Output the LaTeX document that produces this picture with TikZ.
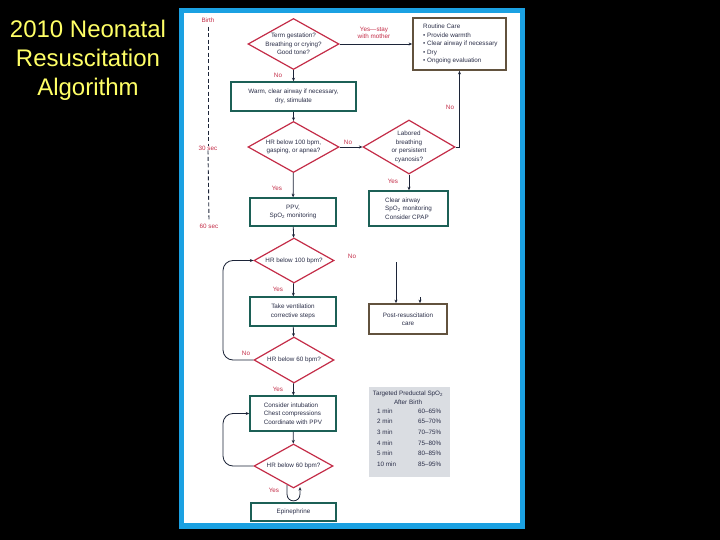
\documentclass[tikz,border=0pt]{standalone}
\usepackage{fontspec}
\setmainfont{Liberation Sans}
\usetikzlibrary{shapes.geometric,arrows.meta,calc}
\definecolor{redc}{RGB}{196,45,72}
\definecolor{tealc}{RGB}{28,96,86}
\definecolor{brownc}{RGB}{98,82,62}
\definecolor{arrc}{RGB}{28,36,56}
\definecolor{textc}{RGB}{42,46,72}
\definecolor{frameblue}{RGB}{27,161,226}
\definecolor{titley}{RGB}{255,255,102}
\definecolor{greyc}{RGB}{218,221,226}
\begin{document}
\begin{tikzpicture}[x=1pt,y=-1pt,
  dia/.style={diamond, draw=redc, line width=1.2pt, inner sep=0pt, fill=white},
  tbox/.style={rectangle, draw=tealc, line width=1.4pt, inner sep=0pt},
  bbox/.style={rectangle, draw=brownc, line width=1.8pt, inner sep=0pt},
  txt/.style={font=\fontsize{6.3}{8.5}\selectfont, text=textc, align=center, inner sep=0pt},
  lab/.style={font=\fontsize{6.3}{7.5}\selectfont, text=redc, inner sep=0pt, align=center},
  arr/.style={draw=arrc, line width=0.8pt, -{Stealth[length=3.5pt,width=3pt]}},
  timeline/.style={draw=arrc, line width=0.9pt, dash pattern=on 4pt off 2.5pt}
]
\fill[black] (0,0) rectangle (720,540);
\useasboundingbox (0,0) rectangle (720,540);
% title
\node[font=\fontsize{24}{29}\selectfont, text=titley, align=center, inner sep=0pt] (title) at (88,60)
  {2010 Neonatal\\Resuscitation\\Algorithm};
% panel
\fill[frameblue] (179,8) rectangle (525,529);
\fill[white] (184,13) rectangle (520,523);

% time line
\node[lab] (birth) at (208,20) {Birth};
\node[lab] (t30) at (208,148) {30 sec};
\node[lab] (t60) at (209,226) {60 sec};
\draw[timeline] (birth.south) ++(0,4) -- (t30.north);
\draw[timeline] (t30.south) -- ($(t60.north)+(0,-3)$);

% shapes
\node[dia, minimum width=91, minimum height=51] (d1) at (293.5,44) {};
\node[txt] at (d1) {Term gestation?\\Breathing or crying?\\Good tone?};
\node[bbox, minimum width=93, minimum height=52] (routine) at (459.5,44) {};
\node[txt, align=left, anchor=west] at (423,44) {Routine Care\\• Provide warmth\\• Clear airway if necessary\\• Dry\\• Ongoing evaluation};
\node[tbox, minimum width=125, minimum height=29] (warm) at (293.5,96.5) {};
\node[txt] at (warm) {Warm, clear airway if necessary,\\dry, stimulate};
\node[dia, minimum width=91, minimum height=51] (d3) at (293.5,147) {};
\node[txt] at (d3) {HR below 100 bpm,\\gasping, or apnea?};
\node[dia, minimum width=92, minimum height=54] (lab) at (409,147) {};
\node[txt] at (lab) {Labored\\breathing\\or persistent\\cyanosis?};
\node[tbox, minimum width=79, minimum height=35] (cpap) at (408.5,208.5) {};
\node[txt, align=left, anchor=west] at (385,208.5) {Clear airway\\SpO\textsubscript{2} monitoring\\Consider CPAP};
\node[tbox, minimum width=86, minimum height=28] (ppv) at (293,212) {};
\node[txt] at (ppv) {PPV,\\SpO\textsubscript{2} monitoring};
\node[dia, minimum width=80, minimum height=45] (d4) at (294,260.5) {};
\node[txt] at (d4) {HR below 100 bpm?};
\node[bbox, minimum width=78, minimum height=30] (post) at (408,319) {};
\node[txt] at (post) {Post-resuscitation\\care};
\node[tbox, minimum width=86, minimum height=29] (vent) at (293,311.5) {};
\node[txt] at (vent) {Take ventilation\\corrective steps};
\node[dia, minimum width=80, minimum height=46] (d5) at (294,360) {};
\node[txt] at (d5) {HR below 60 bpm?};
\node[tbox, minimum width=86, minimum height=35] (comp) at (293,413.5) {};
\node[txt, align=left] at (comp) {Consider intubation\\Chest compressions\\Coordinate with PPV};
\node[dia, minimum width=79, minimum height=44] (d6) at (293.5,466) {};
\node[txt] at (d6) {HR below 60 bpm?};
\node[tbox, minimum width=85, minimum height=18] (epi) at (293.5,512) {};
\node[txt] at (epi) {Epinephrine};

% SpO2 table
\node[fill=greyc, minimum width=81, minimum height=90, inner sep=0pt] (tab) at (409.5,432) {};
\node[txt, font=\fontsize{6.3}{8.8}\selectfont] (tabt) at (408,397.5) {Targeted Preductal SpO\textsubscript{2}\\After Birth};
\foreach \t/\v/\yy in {1 min/60--65\%/411,2 min/65--70\%/421.5,3 min/70--75\%/432,4 min/75--80\%/443,5 min/80--85\%/453.5,10 min/85--95\%/464}{
  \node[txt, anchor=west] at (377,\yy) {\t};
  \node[txt, anchor=west] at (418,\yy) {\v};
}

% labels
\node[lab] (l1) at (278,75) {No};
\node[lab] (l2) at (374,33) {Yes—stay\\with mother};
\node[lab] (l3) at (450,107) {No};
\node[lab] (l4) at (348,142) {No};
\node[lab] (l5) at (393,181) {Yes};
\node[lab] (l6) at (277,188) {Yes};
\node[lab] (l7) at (352,256) {No};
\node[lab] (l8) at (278,289) {Yes};
\node[lab] (l9) at (246,353) {No};
\node[lab] (l10) at (278,389) {Yes};
\node[lab] (l11) at (274,490) {Yes};

% connectors
\draw[arr] (d1.east) -- (routine.west);
\draw[arr] (d1) -- (warm);
\draw[arr] (warm) -- (d3);
\draw[arr] (d3.east) -- (lab.west);
\draw[arr] (lab.east) -| (routine.south);
\draw[arr] (lab.south) -- (lab.south |- cpap.north);
\draw[arr] (d3) -- (ppv);
\draw[arr] (ppv) -- (d4);
\coordinate (n4) at (396,262);
\draw[arr] (n4) -- (n4 |- post.north);
\coordinate (n5) at (420,297);
\draw[arr] (n5) -- (n5 |- post.north);
\draw[arr] (d4) -- (vent);
\draw[arr] (vent) -- (d5);
\draw[arr] (d5) -- (comp);
\draw[arr] (comp) -- (d6);
\coordinate (lp1) at (223,310);
\draw[arr, rounded corners=10pt] (d5.west) -| (lp1) |- (d4.west);
\coordinate (lp2) at (223,440);
\draw[arr, rounded corners=10pt] (d6.west) -| (lp2) |- (comp.west);
\coordinate (u1) at ($(d6.south)+(-6.5,-3.5)$);
\draw[arr] (u1) -- ($(u1)+(0,9)$) .. controls ($(u1)+(0,18)$) and ($(u1)+(13,18)$) .. ($(u1)+(13,9)$) -- ($(u1)+(13,2)$);
\end{tikzpicture}
\end{document}
